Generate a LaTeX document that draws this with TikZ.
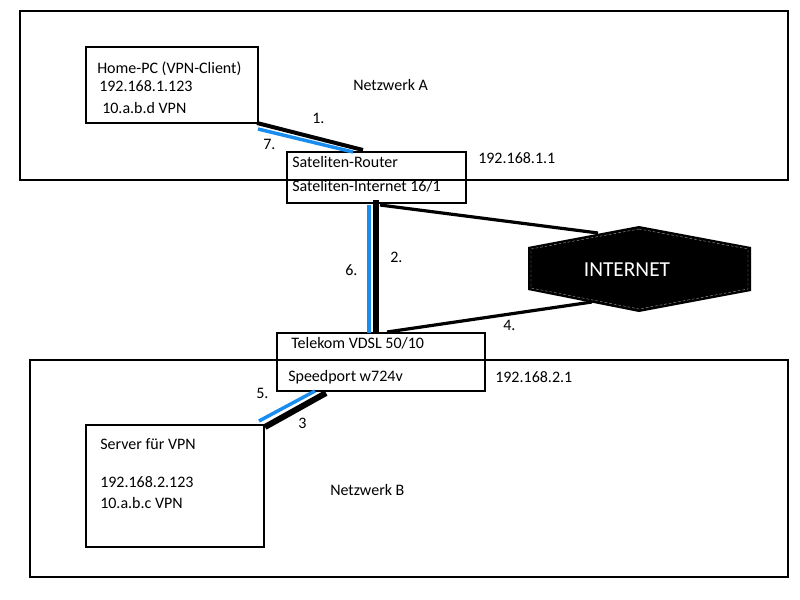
\documentclass[tikz,border=0pt]{standalone}
\usepackage{fontspec}
\setmainfont{Carlito}
\definecolor{vpnblue}{RGB}{25,140,240}
\begin{document}
\begin{tikzpicture}[x=0.75pt,y=-0.75pt,
  box/.style={draw=black, line width=1.5pt},
  lbl/.style={anchor=west, inner sep=0pt, font=\fontsize{12}{14}\selectfont, text height=1.6ex, text depth=0.4ex},
  blk/.style={draw=black, line cap=butt},
  blu/.style={draw=vpnblue, line width=2.6pt, line cap=butt}]
\useasboundingbox[fill=white] (0,0) rectangle (800,600);
% network areas
\draw[box] (20,11) rectangle (788,180);
\draw[box] (30,360) rectangle (788,577);
% devices
\draw[box] (86,47) rectangle (258,123);
\draw[box] (287,152) rectangle (466,203);
\draw[box] (277,333) rectangle (485,391);
\draw[box] (86,425) rectangle (264,547);
% internet
\coordinate (i1) at (639,226);
\coordinate (i2) at (751,247);
\coordinate (i3) at (751,291);
\coordinate (i4) at (639,312);
\coordinate (i5) at (528,290);
\coordinate (i6) at (528,247);
\fill[black] (i1) -- (i2) -- (i3) -- (i4) -- (i5) -- (i6) -- cycle;
\draw[gray!70, line width=0.3pt, dash pattern=on 2pt off 1.5pt] (639,229) -- (748,249) -- (748,289) -- (639,309) -- (531,288) -- (531,249) -- cycle;
\node[text=white, inner sep=0pt, font=\fontsize{16}{18}\selectfont] (inet) at (627,270) {INTERNET};
% connector end points
\coordinate (pcA) at (257,123);
\coordinate (rtA) at (363,150);
\coordinate (pcB) at (258,129);
\coordinate (rtB) at (353,152);
\coordinate (rtC) at (376,200);
\coordinate (tkC) at (376,333);
\coordinate (rtD) at (369,205);
\coordinate (tkD) at (369,333);
\coordinate (rtE) at (380,205);
\coordinate (inE) at (598,233);
\coordinate (tkF) at (387,332);
\coordinate (inF) at (592,302);
\coordinate (tkG) at (326,393);
\coordinate (svG) at (265,427);
\coordinate (tkH) at (315,391);
\coordinate (svH) at (259,421);
% connectors
\draw[blk, line width=3pt] (pcA) -- (rtA);
\draw[blu] (pcB) -- (rtB);
\draw[blk, line width=4.5pt] (rtC) -- (tkC);
\draw[blu] (rtD) -- (tkD);
\draw[blk, line width=2.4pt] (rtE) -- (inE);
\draw[blk, line width=2.4pt] (tkF) -- (inF);
\draw[blk, line width=4.5pt] (tkG) -- (svG);
\draw[blu] (tkH) -- (svH);
% texts
\node[lbl] (t1) at (97,70) {Home-PC (VPN-Client)};
\node[lbl] (t2) at (99,88) {192.168.1.123};
\node[lbl] (t3) at (102,110) {10.a.b.d VPN};
\node[lbl] (t4) at (353,87) {Netzwerk A};
\node[lbl] (t5) at (312,120) {1.};
\node[lbl] (t6) at (263,146) {7.};
\node[lbl] (t7) at (292,164) {Sateliten-Router};
\node[lbl] (t8) at (292,188) {Sateliten-Internet 16/1};
\node[lbl] (t9) at (478,160) {192.168.1.1};
\node[lbl] (t10) at (390,259) {2.};
\node[lbl] (t11) at (345,272) {6.};
\node[lbl] (t12) at (503,327) {4.};
\node[lbl] (t13) at (291,345) {Telekom VDSL 50/10};
\node[lbl] (t14) at (288,378) {Speedport w724v};
\node[lbl] (t15) at (495,379) {192.168.2.1};
\node[lbl] (t16) at (256,395) {5.};
\node[lbl] (t17) at (298,425) {3};
\node[lbl] (t18) at (100,446) {Server für VPN};
\node[lbl] (t19) at (100,484) {192.168.2.123};
\node[lbl] (t20) at (100,505) {10.a.b.c VPN};
\node[lbl] (t21) at (330,492) {Netzwerk B};
\end{tikzpicture}
\end{document}
